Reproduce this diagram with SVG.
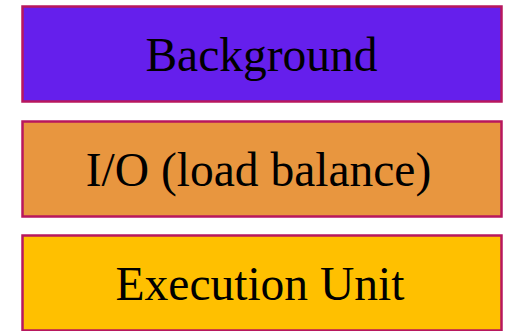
<svg xmlns="http://www.w3.org/2000/svg" width="510" height="331" viewBox="0 0 510 331">
<style>
.box{stroke:#b8175e;stroke-width:2.5}
.lbl{font-family:"Liberation Serif","Times New Roman",serif;font-size:47.5px;fill:#000;text-anchor:middle}
</style>
<rect width="510" height="331" fill="#fff"/>
<g id="background">
<rect class="box" x="22.5" y="6.5" width="479" height="95" fill="#651fec"/>
<text class="lbl" x="261.5" y="71">Background</text>
</g>
<g id="io">
<rect class="box" x="22.5" y="121.5" width="479" height="95" fill="#e8963f"/>
<text class="lbl" x="258.5" y="185.5">I/O (load balance)</text>
</g>
<g id="execution">
<rect class="box" x="22.5" y="235.5" width="479" height="95" fill="#ffc000"/>
<text class="lbl" x="260" y="300.3">Execution Unit</text>
</g>
<g id="connectors"></g>
</svg>
